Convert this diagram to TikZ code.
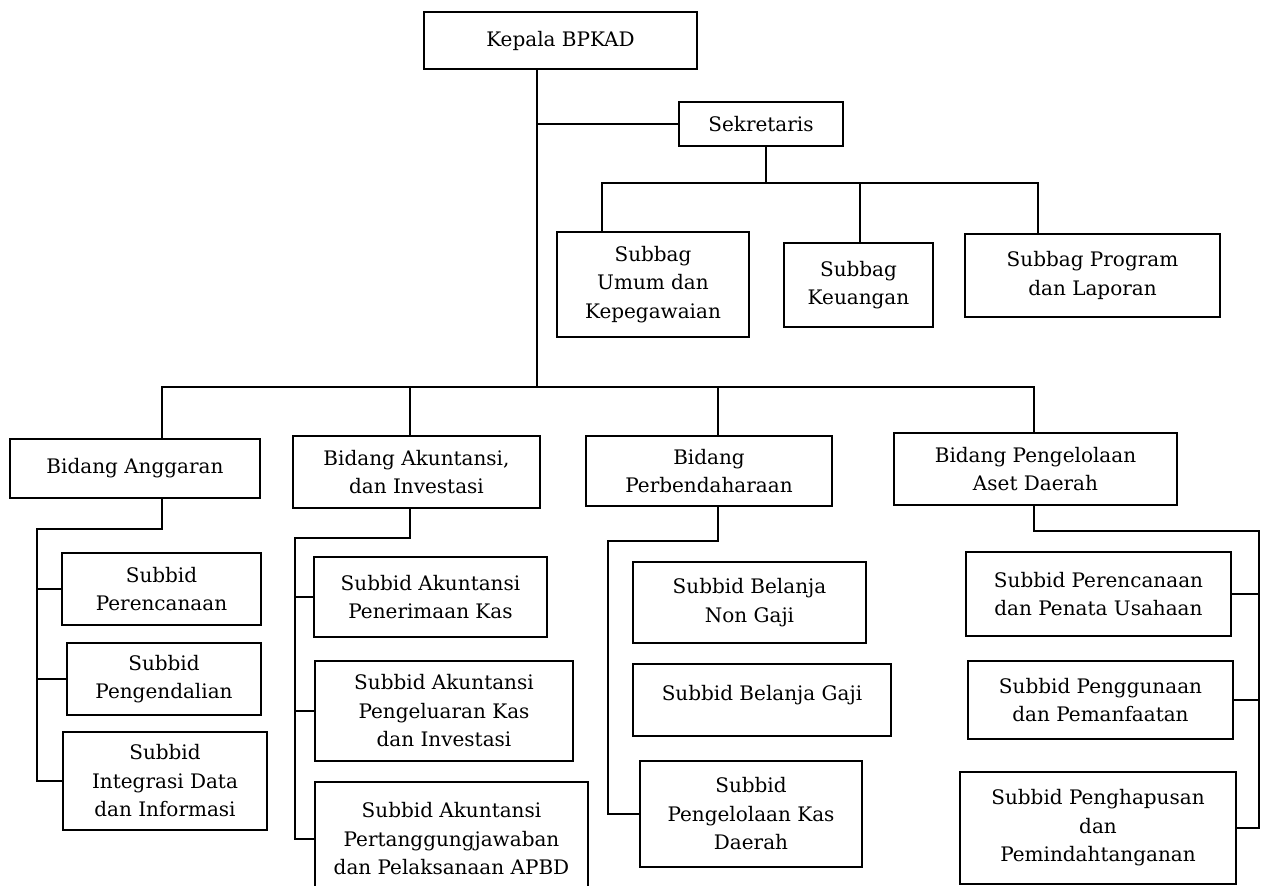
\documentclass[tikz,border=0pt]{standalone}
\usepackage{fontspec}
\setmainfont{DejaVu Serif}
\begin{document}
\begin{tikzpicture}[x=1pt,y=-1pt,
  box/.style={draw, line width=2pt, inner sep=0pt, align=center,
    font=\fontsize{20}{28.5}\selectfont},
  conn/.style={line width=2pt}]
\useasboundingbox[fill=white] (0,0) rectangle (1261,886);
% top level
\node[box, minimum width=273pt, minimum height=57pt] (kepala) at (560.5,40.5) {Kepala BPKAD};
\node[box, minimum width=164pt, minimum height=44pt] (sekr) at (761,124) {Sekretaris};
\node[box, minimum width=192pt, minimum height=105pt] (sbUmum) at (653,284.5) {Subbag\\Umum dan\\Kepegawaian};
\node[box, minimum width=149pt, minimum height=84pt] (sbKeu) at (858.5,285) {Subbag\\Keuangan};
\node[box, minimum width=255pt, minimum height=83pt] (sbProg) at (1092.5,275.5) {Subbag Program\\dan Laporan};
% bidang
\node[box, minimum width=250pt, minimum height=59pt] (bAng) at (135,468.5) {Bidang Anggaran};
\node[box, minimum width=247pt, minimum height=72pt] (bAku) at (416.5,472) {Bidang Akuntansi,\\dan Investasi};
\node[box, minimum width=246pt, minimum height=70pt] (bPer) at (709,471) {Bidang\\Perbendaharaan};
\node[box, minimum width=283pt, minimum height=72pt] (bPen) at (1035.5,469) {Bidang Pengelolaan\\Aset Daerah};
% subbid anggaran
\node[box, minimum width=199pt, minimum height=72pt] (aPer) at (161.5,589) {Subbid\\Perencanaan};
\node[box, minimum width=194pt, minimum height=72pt] (aPeng) at (164,679) {Subbid\\Pengendalian};
\node[box, minimum width=204pt, minimum height=98pt] (aInt) at (165,781) {Subbid\\Integrasi Data\\dan Informasi};
% subbid akuntansi
\node[box, minimum width=233pt, minimum height=80pt] (kPen) at (430.5,597) {Subbid Akuntansi\\Penerimaan Kas};
\node[box, minimum width=258pt, minimum height=100pt] (kPeng) at (444,711) {Subbid Akuntansi\\Pengeluaran Kas\\dan Investasi};
\node[box, minimum width=273pt, minimum height=114pt] (kPert) at (451.5,839) {Subbid Akuntansi\\Pertanggungjawaban\\dan Pelaksanaan APBD};
% subbid perbendaharaan
\node[box, minimum width=233pt, minimum height=81pt] (pNon) at (749.5,602.5) {Subbid Belanja\\Non Gaji};
\node[box, minimum width=258pt, minimum height=72pt, text depth=14pt] (pGaji) at (762,700) {Subbid Belanja Gaji};
\node[box, minimum width=222pt, minimum height=106pt] (pKas) at (751,814) {Subbid\\Pengelolaan Kas\\Daerah};
% subbid aset
\node[box, minimum width=265pt, minimum height=84pt] (gPer) at (1098.5,594) {Subbid Perencanaan\\dan Penata Usahaan};
\node[box, minimum width=265pt, minimum height=78pt] (gPeng) at (1100.5,700) {Subbid Penggunaan\\dan Pemanfaatan};
\node[box, minimum width=276pt, minimum height=112pt] (gHap) at (1098,828) {Subbid Penghapusan\\dan\\Pemindahtanganan};
% junction coordinates
\coordinate (kx) at (537,387);
\coordinate (sj) at (766,183);
\coordinate (s1) at (602,183);
\coordinate (s2) at (860,183);
\coordinate (s3) at (1038,183);
\coordinate (b1) at (162,387);
\coordinate (b2) at (410,387);
\coordinate (b3) at (718,387);
\coordinate (b4) at (1034,387);
\coordinate (a0) at (162,529);
\coordinate (a1) at (37,529);
\coordinate (k0) at (410,538);
\coordinate (k1) at (295,538);
\coordinate (p0) at (718,541);
\coordinate (p1) at (608,541);
\coordinate (g0) at (1034,531);
\coordinate (g1) at (1259,531);
% connectors
\draw[conn] (kepala.south -| kx) -- (kx);
\draw[conn] (sekr.west) -- (sekr.west -| kx);
\draw[conn] (sekr.south -| sj) -- (sj);
\draw[conn] (s1 |- sbUmum.north) -- (s1) -- (s3) -- (s3 |- sbProg.north);
\draw[conn] (s2) -- (s2 |- sbKeu.north);
\draw[conn] (b1 |- bAng.north) -- (b1) -- (b4) -- (b4 |- bPen.north);
\draw[conn] (b2) -- (b2 |- bAku.north);
\draw[conn] (b3) -- (b3 |- bPer.north);
% anggaran
\draw[conn] (bAng.south -| a0) -- (a0) -- (a1) -- (a1 |- aInt.west) -- (aInt.west);
\draw[conn] (a1 |- aPer.west) -- (aPer.west);
\draw[conn] (a1 |- aPeng.west) -- (aPeng.west);
% akuntansi
\draw[conn] (bAku.south -| k0) -- (k0) -- (k1) -- (k1 |- kPert.west) -- (kPert.west);
\draw[conn] (k1 |- kPen.west) -- (kPen.west);
\draw[conn] (k1 |- kPeng.west) -- (kPeng.west);
% perbendaharaan
\draw[conn] (bPer.south -| p0) -- (p0) -- (p1) -- (p1 |- pKas.west) -- (pKas.west);
% aset
\draw[conn] (bPen.south -| g0) -- (g0) -- (g1) -- (g1 |- gHap.east) -- (gHap.east);
\draw[conn] (g1 |- gPer.east) -- (gPer.east);
\draw[conn] (g1 |- gPeng.east) -- (gPeng.east);
\end{tikzpicture}
\end{document}
